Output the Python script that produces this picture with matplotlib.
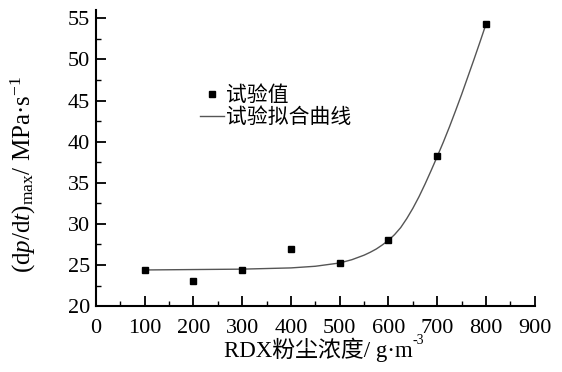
import matplotlib
matplotlib.use("Agg")
import matplotlib.pyplot as plt
from matplotlib.ticker import MultipleLocator

# fonts: Times-like for latin, CJK fallback
plt.rcParams['font.family'] = ['Liberation Serif', 'Noto Sans CJK SC']
plt.rcParams['mathtext.fontset'] = 'custom'
plt.rcParams['mathtext.rm'] = 'Liberation Serif'
plt.rcParams['mathtext.it'] = 'Liberation Serif:italic'
plt.rcParams['axes.unicode_minus'] = False

# measured points
conc = [100, 200, 300, 400, 500, 600, 700, 800]
rate = [24.4, 23.1, 24.4, 26.9, 25.3, 28.0, 38.3, 54.3]

# fitted curve
fit_x = [100, 200, 300, 400, 450, 500, 525, 550, 562.5, 575, 587.5, 600, 612.5, 625, 637.5,
         650, 662.5, 675, 687.5, 700, 712.5, 725, 737.5, 750, 762.5, 775, 787.5, 800]
fit_y = [24.4, 24.45, 24.5, 24.65, 24.85, 25.25, 25.65, 26.2, 26.55, 26.95, 27.45, 28.0, 28.7, 29.55, 30.65,
         31.9, 33.3, 34.85, 36.5, 38.2, 39.95, 41.8, 43.75, 45.75, 47.85, 49.95, 52.1, 54.3]

fig = plt.figure(figsize=(5.62, 3.72), dpi=100)
ax = fig.add_axes([0.1706, 0.177, 0.781, 0.796])

ax.plot(fit_x, fit_y, color='#555555', lw=1.0, label='试验拟合曲线')
ax.plot(conc, rate, 's', color='black', ms=4.5, label='试验值')

ax.set_xlim(0, 900)
ax.set_ylim(20, 56)
ax.xaxis.set_major_locator(MultipleLocator(100))
ax.xaxis.set_minor_locator(MultipleLocator(50))
ax.yaxis.set_major_locator(MultipleLocator(5))
ax.yaxis.set_minor_locator(MultipleLocator(2.5))
ax.spines['top'].set_visible(False)
ax.spines['right'].set_visible(False)
for s in ('left', 'bottom'):
    ax.spines[s].set_linewidth(1.5)
ax.tick_params(which='major', direction='in', length=7, width=1.3, labelsize=16)
ax.tick_params(axis='x', which='major', pad=9)
ax.tick_params(axis='y', which='major', pad=4)
ax.tick_params(which='minor', direction='in', length=3.5, width=1.0)

# x label: plain text (so CJK fallback works) + superscript
xl = fig.text(0.566, 0.040, 'RDX粉尘浓度/ g·m', fontsize=16.5, ha='center', va='baseline')
ax.annotate('-3', xy=(1, 0.64), xycoords=xl, fontsize=10, ha='left', va='bottom')

ax.set_ylabel('(d$p$/d$t$)$_{\\rm max}$/ MPa·s$^{-1}$', fontsize=18, va='center')
ax.yaxis.set_label_coords(-0.164, 0.446)

h, l = ax.get_legend_handles_labels()
ax.legend([h[1], h[0]], [l[1], l[0]], loc='upper left', bbox_to_anchor=(0.238, 0.742),
          frameon=False, fontsize=15, handlelength=1.15, handletextpad=0.1,
          labelspacing=0.12, borderaxespad=0, borderpad=0)

fig.savefig('out.png', dpi=100)
